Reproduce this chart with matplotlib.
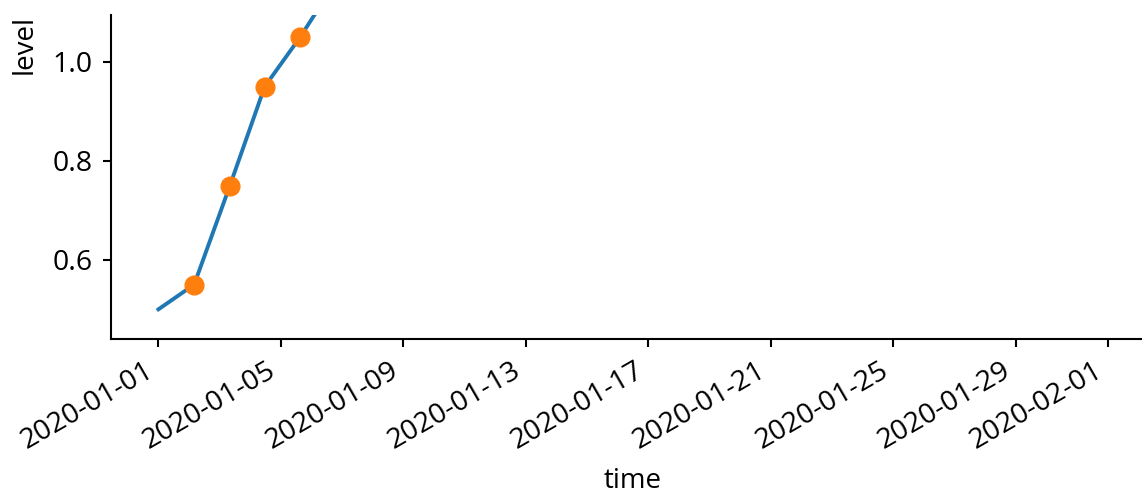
import matplotlib
matplotlib.use("Agg")
import matplotlib.pyplot as plt
import matplotlib.dates as mdates
import numpy as np
import pandas as pd

plt.rcParams['font.family'] = ['Open Sans', 'DejaVu Sans']

# line series (last point runs off the top)
times = pd.to_datetime(["2020-01-01 00:00", "2020-01-02 04:00", "2020-01-03 08:00",
                        "2020-01-04 11:15", "2020-01-05 15:00", "2020-01-06 18:30"])
level = [0.50, 0.55, 0.75, 0.95, 1.05, 1.16]

# highlighted points
mark_times = times[1:5]
mark_level = level[1:5]

fig = plt.figure(figsize=(11.42, 4.94), dpi=100)
ax = fig.add_axes([0.0972, 0.3138, 0.9142, 0.6559])

ax.plot(times, level, color='#1f77b4', lw=2.8, zorder=2)
ax.plot(mark_times, mark_level, 'o', color='#ff7f0e', ms=13.5, zorder=3)

ax.set_xlim(pd.Timestamp("2020-01-01") - pd.Timedelta(days=1.55),
            pd.Timestamp("2020-02-01") + pd.Timedelta(days=1.55))
ax.set_ylim(0.44, 1.095)
ax.set_yticks([0.6, 0.8, 1.0])

ax.xaxis.set_major_locator(mdates.AutoDateLocator())
ax.xaxis.set_major_formatter(mdates.DateFormatter("%Y-%m-%d"))

for s in ['top', 'right']:
    ax.spines[s].set_visible(False)
for s in ['left', 'bottom']:
    ax.spines[s].set_linewidth(1.5)

ax.tick_params(labelsize=20.5, length=6, width=1.5, pad=7)
for lbl in ax.get_xticklabels():
    lbl.set_rotation(30)
    lbl.set_ha('right')

ax.set_xlabel("time", fontsize=20, labelpad=8)
ax.set_ylabel("level", fontsize=20, loc='top', labelpad=10)

fig.savefig("out.png", dpi=100)
